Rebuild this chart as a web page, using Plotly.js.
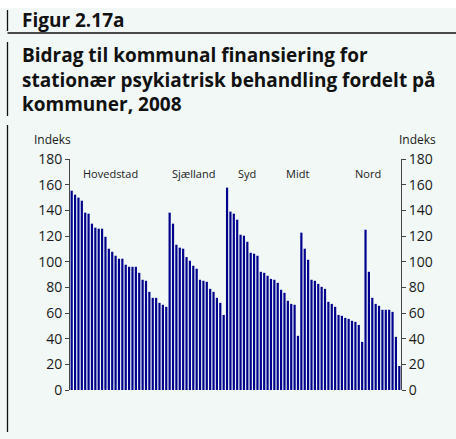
<!DOCTYPE html>
<html>
<head>
<meta charset="utf-8">
<script src="https://cdn.plot.ly/plotly-3.0.1.min.js"></script>
<style>
html,body{margin:0;padding:0;background:#f1f8f6;}
#chart{width:456px;height:439px;}
</style>
</head>
<body>
<div id="chart"></div>
<script>
// Values (index, municipalities sorted within each region)
const regions = ["Hovedstad", "Sjælland", "Syd", "Midt", "Nord"];
const hovedstad = [155.3,152.2,149.9,147.5,138.2,137.4,129.6,126.5,125.7,125.7,119.4,110.1,107.7,104.6,102.3,102.3,97.6,96.0,96.0,96.0,91.3,85.9,85.1,76.5,71.8,71.8,67.9,66.4,64.8];
const sjaelland = [138.2,129.6,113.2,110.9,110.1,103.6,100.7,96.8,94.5,85.9,85.1,84.3,78.8,76.5,71.8,67.9,58.5];
const syd = [157.7,139.0,137.4,132.7,121.0,120.2,115.5,106.9,106.2,104.6,92.1,91.3,89.0,86.6,85.9,83.5,78.1,75.7,69.5,67.1,66.4,42.2];
const midt = [122.6,110.1,101.5,85.9,85.1,82.7,80.4,78.8,68.7,67.1,64.8,58.5,57.8,56.2,55.4,53.9,53.1,50.7,37.5];
const nord = [124.9,92.1,71.8,67.1,65.6,62.5,62.5,62.5,60.9,41.4,18.7];
const yTicks = [0,20,40,60,80,100,120,140,160,180];
const titleTop = "Figur 2.17a";
const titleMain = "Bidrag til kommunal finansiering for<br>stationær psykiatrisk behandling fordelt på<br>kommuner, 2008";
const unitLabel = "Indeks";

const groups = [hovedstad, sjaelland, syd, midt, nord];
const values = [].concat(...groups);
const xIdx = values.map((v, i) => i);
// region label anchor: position inside group (style)
const labelPos = [11.4, 36, 52, 66.8, 87.7];

// pixel -> paper helpers (plot area: x 70..401, y 159..390)
const L = 70, R = 401, T = 159, B = 390;
const px = x => (x - L) / (R - L);
const py = y => (B - y) / (B - T);

const F = "Open Sans, Noto Sans, sans-serif";
const axisBase = {
  range: [0, 180], tickvals: yTicks, ticktext: yTicks.map(String),
  ticks: "outside", ticklen: 4, tickcolor: "#444", tickwidth: 1,
  showline: true, linecolor: "#444", linewidth: 1,
  showgrid: false, zeroline: false, fixedrange: true,
  tickfont: {family: F, size: 14, color: "#1a1a1a"}
};

const traces = [
  {type: "bar", x: xIdx, y: values, marker: {color: "#00008c"}, hoverinfo: "y", showlegend: false},
  {type: "scatter", x: [0], y: [null], yaxis: "y2", mode: "none", showlegend: false, hoverinfo: "skip"}
];

const ann = regions.map((r, i) => ({
  text: r, x: labelPos[i], y: (B - 173) / ((B - T) / 180), xref: "x", yref: "y",
  showarrow: false, font: {family: F, size: 11, color: "#1a1a1a"}, xanchor: "center", yanchor: "middle"
}));
ann.push({text: unitLabel, xref: "paper", yref: "paper", x: px(73), y: py(139), xanchor: "right", yanchor: "middle", showarrow: false, font: {family: F, size: 12, color: "#1a1a1a"}});
ann.push({text: unitLabel, xref: "paper", yref: "paper", x: px(397), y: py(139), xanchor: "left", yanchor: "middle", showarrow: false, font: {family: F, size: 12, color: "#1a1a1a"}});
ann.push({text: "<b>" + titleTop + "</b>", xref: "paper", yref: "paper", x: px(20), y: py(20), xanchor: "left", yanchor: "middle", showarrow: false, font: {family: F, size: 19, color: "#111"}});
ann.push({text: "<b>" + titleMain + "</b>", xref: "paper", yref: "paper", x: px(20), y: py(80), xanchor: "left", yanchor: "middle", align: "left", showarrow: false, font: {family: F, size: 19, color: "#111"}});

const lineStyle = {color: "#111", width: 1.3};
const shapes = [
  {type: "rect", xref: "paper", yref: "paper", x0: px(0), x1: px(456), y0: py(0), y1: py(8), fillcolor: "#ffffff", line: {width: 0}, layer: "below"},
  {type: "line", xref: "paper", yref: "paper", x0: px(7.5), x1: px(456), y0: py(33), y1: py(33), line: lineStyle},
  {type: "line", xref: "paper", yref: "paper", x0: px(7.5), x1: px(7.5), y0: py(10), y1: py(31), line: lineStyle},
  {type: "line", xref: "paper", yref: "paper", x0: px(7.5), x1: px(7.5), y0: py(42), y1: py(116), line: lineStyle},
  {type: "line", xref: "paper", yref: "paper", x0: px(7.5), x1: px(7.5), y0: py(125), y1: py(432), line: lineStyle}
];

const layout = {
  width: 456, height: 439,
  margin: {l: L, r: 456 - R, t: T, b: 439 - B, pad: 0},
  paper_bgcolor: "#f1f8f6", plot_bgcolor: "#f1f8f6",
  bargap: 0.35,
  xaxis: {range: [-0.5, values.length - 0.5], showticklabels: false, ticks: "", showgrid: false, zeroline: false, showline: false, fixedrange: true},
  yaxis: Object.assign({}, axisBase, {side: "left"}),
  yaxis2: Object.assign({}, axisBase, {side: "right", overlaying: "y", anchor: "x"}),
  annotations: ann, shapes: shapes, showlegend: false
};

Plotly.newPlot("chart", traces, layout, {staticPlot: true, displayModeBar: false});
</script>
</body>
</html>
